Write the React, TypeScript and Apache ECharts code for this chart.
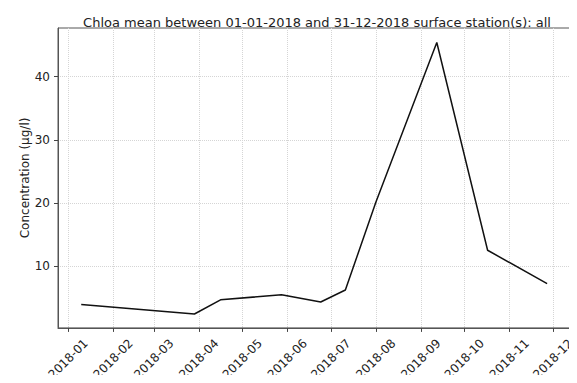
import React, { useEffect, useRef } from "react";
import * as echarts from "echarts";

const pointDates = [
  "2018-01-10", "2018-03-29", "2018-04-16", "2018-05-28", "2018-06-24",
  "2018-07-11", "2018-08-01", "2018-09-12", "2018-10-17", "2018-11-27",
];
const chloaValues = [3.9, 2.4, 4.65, 5.45, 4.3, 6.2, 20.1, 45.4, 12.5, 7.2];
const monthTicks = [
  "2018-01", "2018-02", "2018-03", "2018-04", "2018-05", "2018-06",
  "2018-07", "2018-08", "2018-09", "2018-10", "2018-11", "2018-12",
];
const yTicks = [10, 20, 30, 40];
const xRange = ["2017-12-25", "2018-12-13"];
const yRange = [0.2, 47.7];

const toMs = (s: string) => {
  const p = s.split("-").map(Number);
  return Date.UTC(p[0], p[1] - 1, p[2] || 1);
};

export default function App() {
  const ref = useRef<HTMLDivElement>(null);
  useEffect(() => {
    if (!ref.current) return;
    const chart = echarts.init(ref.current, null, { renderer: "svg" });
    const tickMs = monthTicks.map(toMs);
    const font = "DejaVu Sans";
    chart.setOption({
      animation: false,
      textStyle: { fontFamily: font },
      title: {
        text: "Chloa mean between 01-01-2018 and 31-12-2018 surface station(s): all",
        left: 312,
        textAlign: "center",
        top: 11,
        textStyle: { fontFamily: font, fontSize: 13, fontWeight: "normal", color: "#222" },
      },
      grid: {
        left: 58, right: 1, top: 28, bottom: 54,
        show: true, borderColor: "#555", borderWidth: 1,
      },
      xAxis: {
        type: "value",
        min: toMs(xRange[0]),
        max: toMs(xRange[1]),
        axisLine: { show: true, lineStyle: { color: "#555" } },
        axisTick: {
          show: true, length: 4, inside: false,
          customValues: tickMs,
          lineStyle: { color: "#444" },
        },
        axisLabel: {
          customValues: tickMs,
          rotate: 45,
          align: "center",
          verticalAlign: "middle",
          margin: 31,
          fontFamily: font,
          fontSize: 12,
          color: "#222",
          formatter: (v: number) => {
            const i = tickMs.indexOf(v);
            return i >= 0 ? monthTicks[i] : "";
          },
        },
        splitLine: { show: true, lineStyle: { color: "#d5d5d5", type: [1, 1] } },
      },
      yAxis: {
        type: "value",
        min: yRange[0],
        max: yRange[1],
        name: "Concentration (µg/l)",
        nameLocation: "middle",
        nameGap: 27,
        nameMoveOverlap: false,
        nameTextStyle: { fontFamily: font, fontSize: 12, color: "#222" },
        axisLine: { show: true, lineStyle: { color: "#555" } },
        axisTick: { show: true, length: 4, customValues: yTicks, lineStyle: { color: "#444" } },
        axisLabel: {
          customValues: yTicks,
          margin: 8,
          fontFamily: font,
          fontSize: 12,
          color: "#222",
        },
        splitLine: { show: true, lineStyle: { color: "#d5d5d5", type: [1, 1] } },
      },
      series: [
        {
          type: "line",
          data: pointDates.map((d, i) => [toMs(d), chloaValues[i]]),
          showSymbol: false,
          symbol: "none",
          lineStyle: { color: "#111", width: 1.5 },
        },
      ],
    });
    return () => chart.dispose();
  }, []);
  return <div ref={ref} style={{ width: 577, height: 383, margin: -8 }} />;
}
